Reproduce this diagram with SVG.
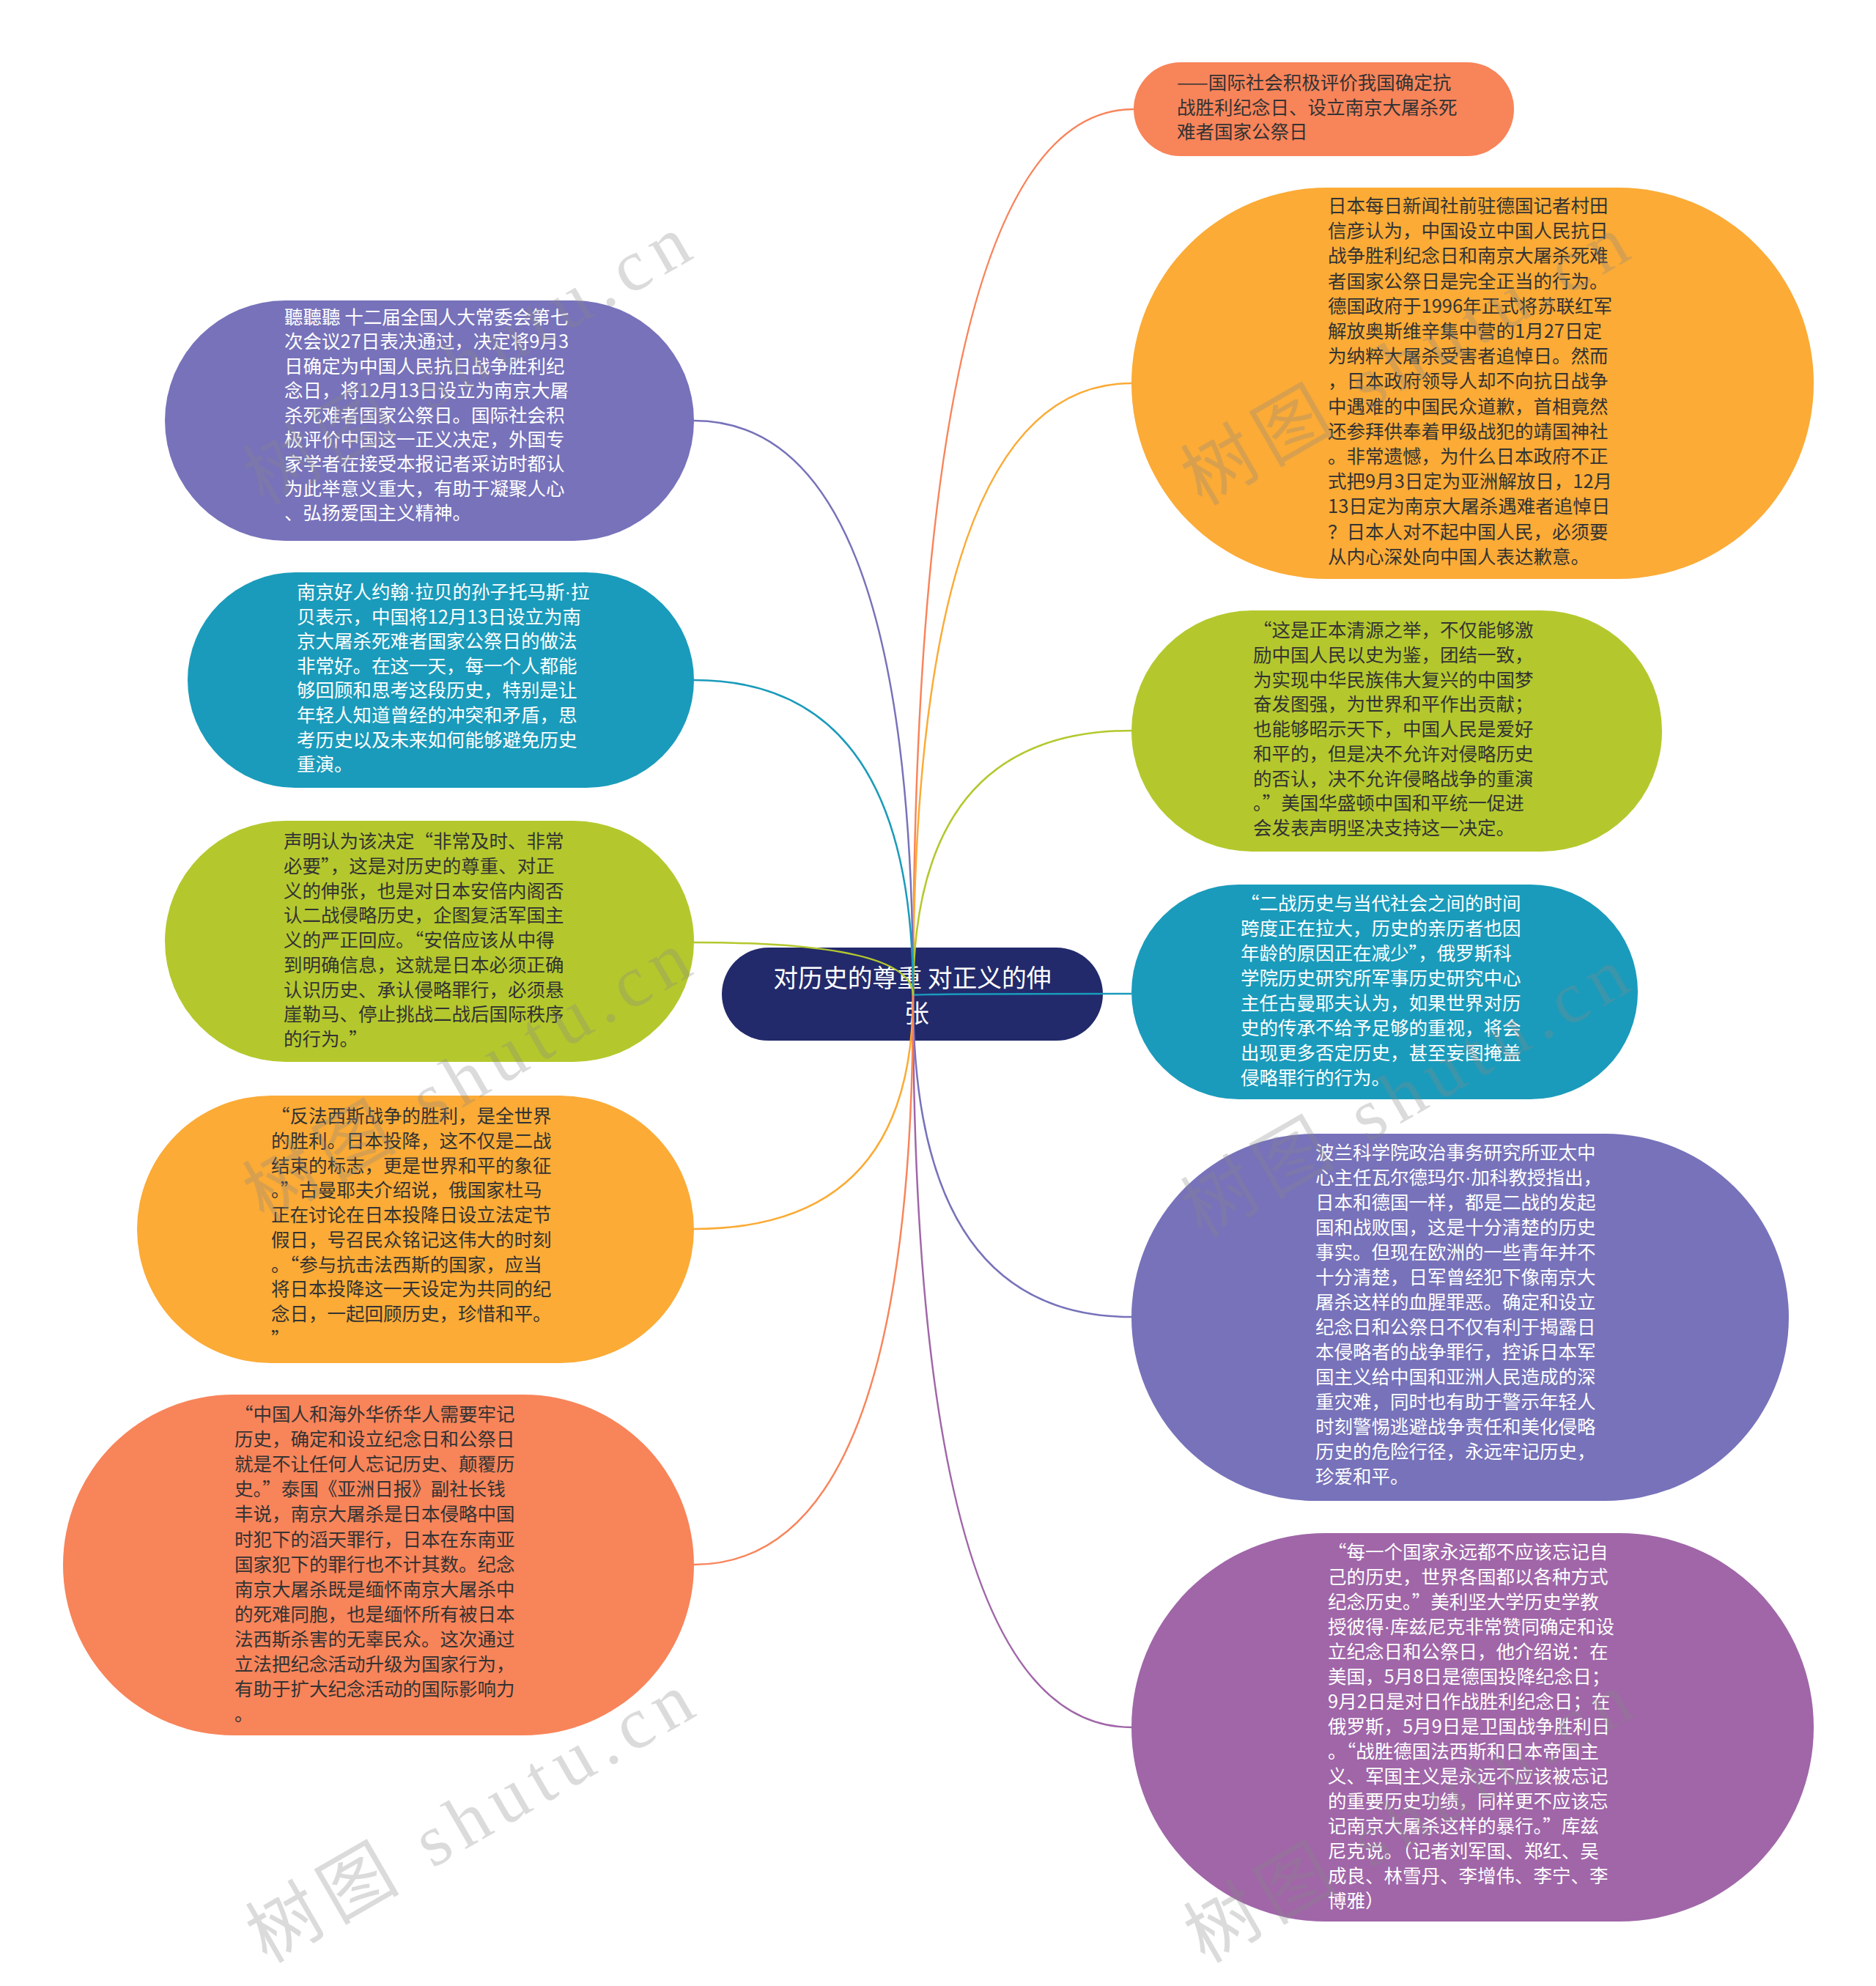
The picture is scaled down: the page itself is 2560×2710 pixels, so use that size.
<svg xmlns="http://www.w3.org/2000/svg" width="2560" height="2710" viewBox="0 0 2560 2710">
<style>
.bg{fill:#ffffff}
.t{font-family:"Noto Sans CJK SC","Noto Sans",sans-serif;font-size:25.5px}
.dot{font-family:"Liberation Sans",sans-serif}
.dk{fill:#333333}
.wt{fill:#ffffff}
.c{fill:none;stroke-width:2.5}
.wm{font-family:"Liberation Serif","Noto Sans CJK SC",serif;font-size:100px;fill:#888888;fill-opacity:0.3}
.coral{fill:#F8845A}.amber{fill:#FBAB36}.lime{fill:#B4C82D}.teal{fill:#1A9BBB}.purple{fill:#7772BA}.violet{fill:#A066A8}.navy{fill:#222A6B}
</style>
<rect class="bg" x="0" y="0" width="2560" height="2710"/>

<g id="n1">
<rect class="coral" x="1547" y="85" width="519" height="128" rx="64"/>
<text class="t dk"><tspan x="1606" y="122">——国际社会积极评价我国确定抗</tspan><tspan x="1606" dy="33.5">战胜利纪念日、设立南京大屠杀死</tspan><tspan x="1606" dy="33.5">难者国家公祭日</tspan></text>
</g>

<g id="n2">
<rect class="amber" x="1544" y="256" width="931" height="534" rx="267"/>
<text class="t dk"><tspan x="1812" y="290">日本每日新闻社前驻德国记者村田</tspan><tspan x="1812" dy="34.2">信彦认为，中国设立中国人民抗日</tspan><tspan x="1812" dy="34.2">战争胜利纪念日和南京大屠杀死难</tspan><tspan x="1812" dy="34.2">者国家公祭日是完全正当的行为。</tspan><tspan x="1812" dy="34.2">德国政府于1996年正式将苏联红军</tspan><tspan x="1812" dy="34.2">解放奥斯维辛集中营的1月27日定</tspan><tspan x="1812" dy="34.2">为纳粹大屠杀受害者追悼日。然而</tspan><tspan x="1812" dy="34.2">，日本政府领导人却不向抗日战争</tspan><tspan x="1812" dy="34.2">中遇难的中国民众道歉，首相竟然</tspan><tspan x="1812" dy="34.2">还参拜供奉着甲级战犯的靖国神社</tspan><tspan x="1812" dy="34.2">。非常遗憾，为什么日本政府不正</tspan><tspan x="1812" dy="34.2">式把9月3日定为亚洲解放日，12月</tspan><tspan x="1812" dy="34.2">13日定为南京大屠杀遇难者追悼日</tspan><tspan x="1812" dy="34.2">？日本人对不起中国人民，必须要</tspan><tspan x="1812" dy="34.2">从内心深处向中国人表达歉意。</tspan></text>
</g>

<g id="n3">
<rect class="lime" x="1544" y="833" width="724" height="329" rx="164.5"/>
<text class="t dk"><tspan x="1710" y="869">“这是正本清源之举，不仅能够激</tspan><tspan x="1710" dy="33.75">励中国人民以史为鉴，团结一致，</tspan><tspan x="1710" dy="33.75">为实现中华民族伟大复兴的中国梦</tspan><tspan x="1710" dy="33.75">奋发图强，为世界和平作出贡献；</tspan><tspan x="1710" dy="33.75">也能够昭示天下，中国人民是爱好</tspan><tspan x="1710" dy="33.75">和平的，但是决不允许对侵略历史</tspan><tspan x="1710" dy="33.75">的否认，决不允许侵略战争的重演</tspan><tspan x="1710" dy="33.75">。”美国华盛顿中国和平统一促进</tspan><tspan x="1710" dy="33.75">会发表声明坚决支持这一决定。</tspan></text>
</g>

<g id="n4">
<rect class="teal" x="1544" y="1207" width="691" height="293" rx="146.5"/>
<text class="t wt"><tspan x="1693" y="1242">“二战历史与当代社会之间的时间</tspan><tspan x="1693" dy="34">跨度正在拉大，历史的亲历者也因</tspan><tspan x="1693" dy="34">年龄的原因正在减少”，俄罗斯科</tspan><tspan x="1693" dy="34">学院历史研究所军事历史研究中心</tspan><tspan x="1693" dy="34">主任古曼耶夫认为，如果世界对历</tspan><tspan x="1693" dy="34">史的传承不给予足够的重视，将会</tspan><tspan x="1693" dy="34">出现更多否定历史，甚至妄图掩盖</tspan><tspan x="1693" dy="34">侵略罪行的行为。</tspan></text>
</g>

<g id="n5">
<rect class="purple" x="1544" y="1547" width="897" height="501" rx="250.5"/>
<text class="t wt"><tspan x="1795" y="1582">波兰科学院政治事务研究所亚太中</tspan><tspan x="1795" dy="34">心主任瓦尔德玛尔<tspan class="dot">·</tspan>加科教授指出，</tspan><tspan x="1795" dy="34">日本和德国一样，都是二战的发起</tspan><tspan x="1795" dy="34">国和战败国，这是十分清楚的历史</tspan><tspan x="1795" dy="34">事实。但现在欧洲的一些青年并不</tspan><tspan x="1795" dy="34">十分清楚，日军曾经犯下像南京大</tspan><tspan x="1795" dy="34">屠杀这样的血腥罪恶。确定和设立</tspan><tspan x="1795" dy="34">纪念日和公祭日不仅有利于揭露日</tspan><tspan x="1795" dy="34">本侵略者的战争罪行，控诉日本军</tspan><tspan x="1795" dy="34">国主义给中国和亚洲人民造成的深</tspan><tspan x="1795" dy="34">重灾难，同时也有助于警示年轻人</tspan><tspan x="1795" dy="34">时刻警惕逃避战争责任和美化侵略</tspan><tspan x="1795" dy="34">历史的危险行径，永远牢记历史，</tspan><tspan x="1795" dy="34">珍爱和平。</tspan></text>
</g>

<g id="n6">
<rect class="violet" x="1544" y="2092" width="931" height="530" rx="265"/>
<text class="t wt"><tspan x="1812" y="2127">“每一个国家永远都不应该忘记自</tspan><tspan x="1812" dy="34">己的历史，世界各国都以各种方式</tspan><tspan x="1812" dy="34">纪念历史。”美利坚大学历史学教</tspan><tspan x="1812" dy="34">授彼得<tspan class="dot">·</tspan>库兹尼克非常赞同确定和设</tspan><tspan x="1812" dy="34">立纪念日和公祭日，他介绍说：在</tspan><tspan x="1812" dy="34">美国，5月8日是德国投降纪念日；</tspan><tspan x="1812" dy="34">9月2日是对日作战胜利纪念日；在</tspan><tspan x="1812" dy="34">俄罗斯，5月9日是卫国战争胜利日</tspan><tspan x="1812" dy="34">。“战胜德国法西斯和日本帝国主</tspan><tspan x="1812" dy="34">义、军国主义是永远不应该被忘记</tspan><tspan x="1812" dy="34">的重要历史功绩，同样更不应该忘</tspan><tspan x="1812" dy="34">记南京大屠杀这样的暴行。”库兹</tspan><tspan x="1812" dy="34">尼克说。（记者刘军国、郑红、吴</tspan><tspan x="1812" dy="34">成良、林雪丹、李增伟、李宁、李</tspan><tspan x="1812" dy="34">博雅）</tspan></text>
</g>

<g id="n7">
<rect class="purple" x="225" y="410" width="722" height="328" rx="164"/>
<text class="t wt"><tspan x="388" y="442">聽聽聽 十二届全国人大常委会第七</tspan><tspan x="388" dy="33.4">次会议27日表决通过，决定将9月3</tspan><tspan x="388" dy="33.4">日确定为中国人民抗日战争胜利纪</tspan><tspan x="388" dy="33.4">念日，将12月13日设立为南京大屠</tspan><tspan x="388" dy="33.4">杀死难者国家公祭日。国际社会积</tspan><tspan x="388" dy="33.4">极评价中国这一正义决定，外国专</tspan><tspan x="388" dy="33.4">家学者在接受本报记者采访时都认</tspan><tspan x="388" dy="33.4">为此举意义重大，有助于凝聚人心</tspan><tspan x="388" dy="33.4">、弘扬爱国主义精神。</tspan></text>
</g>

<g id="n8">
<rect class="teal" x="256" y="781" width="691" height="294" rx="147"/>
<text class="t wt"><tspan x="405" y="817">南京好人约翰<tspan class="dot">·</tspan>拉贝的孙子托马斯<tspan class="dot">·</tspan>拉</tspan><tspan x="405" dy="33.6">贝表示，中国将12月13日设立为南</tspan><tspan x="405" dy="33.6">京大屠杀死难者国家公祭日的做法</tspan><tspan x="405" dy="33.6">非常好。在这一天，每一个人都能</tspan><tspan x="405" dy="33.6">够回顾和思考这段历史，特别是让</tspan><tspan x="405" dy="33.6">年轻人知道曾经的冲突和矛盾，思</tspan><tspan x="405" dy="33.6">考历史以及未来如何能够避免历史</tspan><tspan x="405" dy="33.6">重演。</tspan></text>
</g>

<g id="n9">
<rect class="lime" x="225" y="1120" width="722" height="329" rx="164.5"/>
<text class="t dk"><tspan x="387" y="1157">声明认为该决定“非常及时、非常</tspan><tspan x="387" dy="33.75">必要”，这是对历史的尊重、对正</tspan><tspan x="387" dy="33.75">义的伸张，也是对日本安倍内阁否</tspan><tspan x="387" dy="33.75">认二战侵略历史，企图复活军国主</tspan><tspan x="387" dy="33.75">义的严正回应。“安倍应该从中得</tspan><tspan x="387" dy="33.75">到明确信息，这就是日本必须正确</tspan><tspan x="387" dy="33.75">认识历史、承认侵略罪行，必须悬</tspan><tspan x="387" dy="33.75">崖勒马、停止挑战二战后国际秩序</tspan><tspan x="387" dy="33.75">的行为。”</tspan></text>
</g>

<g id="n10">
<rect class="amber" x="187" y="1495" width="760" height="365" rx="182.5"/>
<text class="t dk"><tspan x="370" y="1532">“反法西斯战争的胜利，是全世界</tspan><tspan x="370" dy="33.75">的胜利。日本投降，这不仅是二战</tspan><tspan x="370" dy="33.75">结束的标志，更是世界和平的象征</tspan><tspan x="370" dy="33.75">。”古曼耶夫介绍说，俄国家杜马</tspan><tspan x="370" dy="33.75">正在讨论在日本投降日设立法定节</tspan><tspan x="370" dy="33.75">假日，号召民众铭记这伟大的时刻</tspan><tspan x="370" dy="33.75">。“参与抗击法西斯的国家，应当</tspan><tspan x="370" dy="33.75">将日本投降这一天设定为共同的纪</tspan><tspan x="370" dy="33.75">念日，一起回顾历史，珍惜和平。</tspan><tspan x="370" dy="33.75">”</tspan></text>
</g>

<g id="n11">
<rect class="coral" x="86" y="1903" width="861" height="465" rx="232.5"/>
<text class="t dk"><tspan x="320" y="1939">“中国人和海外华侨华人需要牢记</tspan><tspan x="320" dy="34.1">历史，确定和设立纪念日和公祭日</tspan><tspan x="320" dy="34.1">就是不让任何人忘记历史、颠覆历</tspan><tspan x="320" dy="34.1">史。”泰国《亚洲日报》副社长钱</tspan><tspan x="320" dy="34.1">丰说，南京大屠杀是日本侵略中国</tspan><tspan x="320" dy="34.1">时犯下的滔天罪行，日本在东南亚</tspan><tspan x="320" dy="34.1">国家犯下的罪行也不计其数。纪念</tspan><tspan x="320" dy="34.1">南京大屠杀既是缅怀南京大屠杀中</tspan><tspan x="320" dy="34.1">的死难同胞，也是缅怀所有被日本</tspan><tspan x="320" dy="34.1">法西斯杀害的无辜民众。这次通过</tspan><tspan x="320" dy="34.1">立法把纪念活动升级为国家行为，</tspan><tspan x="320" dy="34.1">有助于扩大纪念活动的国际影响力</tspan><tspan x="320" dy="34.1">。</tspan></text>
</g>

<g id="center">
<rect class="navy" x="985" y="1293" width="520" height="127" rx="63.5"/>
<text class="t wt" style="font-size:33.8px" text-anchor="middle"><tspan x="1245" y="1347">对历史的尊重 对正义的伸</tspan><tspan x="1251" dy="48">张</tspan></text>
</g>

<g id="connectors">
<path class="c" stroke="#F8845A" d="M1246 1358 Q1246 149 1547 149"/>
<path class="c" stroke="#FBAB36" d="M1246 1358 Q1246 523 1544 523"/>
<path class="c" stroke="#B4C82D" d="M1246 1358 Q1246 997 1544 997"/>
<path class="c" stroke="#1A9BBB" d="M1246 1358 Q1246 1356 1544 1356"/>
<path class="c" stroke="#7772BA" d="M1246 1358 Q1246 1797 1544 1797"/>
<path class="c" stroke="#A066A8" d="M1246 1358 Q1246 2357 1544 2357"/>
<path class="c" stroke="#7772BA" d="M1246 1358 Q1246 574 947 574"/>
<path class="c" stroke="#1A9BBB" d="M1246 1358 Q1246 928 947 928"/>
<path class="c" stroke="#B4C82D" d="M1246 1358 Q1246 1286 947 1286"/>
<path class="c" stroke="#FBAB36" d="M1246 1358 Q1246 1677 947 1677"/>
<path class="c" stroke="#F8845A" d="M1246 1358 Q1246 2135 947 2135"/>
</g>

<g id="watermarks">
<text class="wm" x="360" y="691" transform="rotate(-30 360 691)" textLength="680" lengthAdjust="spacing">树图 shutu.cn</text>
<text class="wm" x="360" y="1668" transform="rotate(-30 360 1668)" textLength="680" lengthAdjust="spacing">树图 shutu.cn</text>
<text class="wm" x="364" y="2680" transform="rotate(-30 364 2680)" textLength="680" lengthAdjust="spacing">树图 shutu.cn</text>
<text class="wm" x="1640" y="691" transform="rotate(-30 1640 691)" textLength="680" lengthAdjust="spacing">树图 shutu.cn</text>
<text class="wm" x="1640" y="1690" transform="rotate(-30 1640 1690)" textLength="680" lengthAdjust="spacing">树图 shutu.cn</text>
<text class="wm" x="1644" y="2680" transform="rotate(-30 1644 2680)" textLength="680" lengthAdjust="spacing">树图 shutu.cn</text>
</g>
</svg>
